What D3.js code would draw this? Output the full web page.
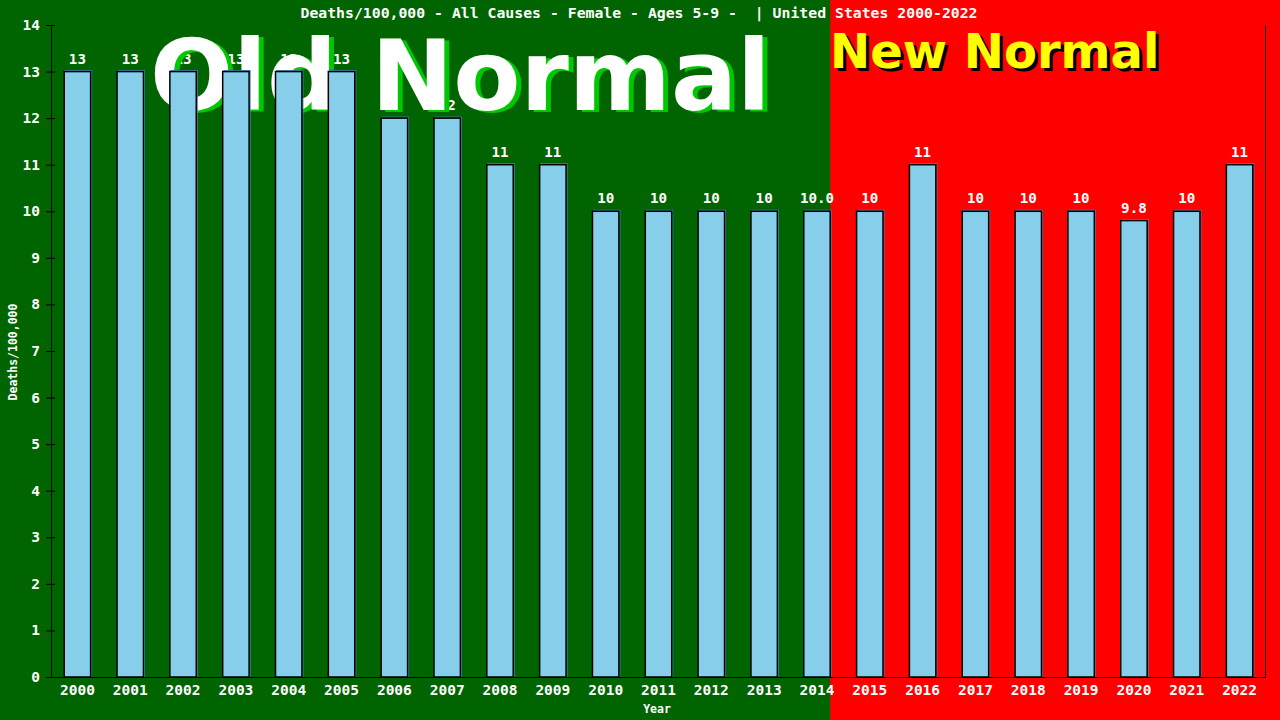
<!DOCTYPE html>
<html>
<head>
<meta charset="utf-8">
<script src="https://d3js.org/d3.v7.min.js"></script>
<style>
	body {margin: 0; background: #006400;}
	svg {display: block;}
	text {font-family: "DejaVu Sans Mono", monospace; font-weight: bold;}
</style>
</head>
<body>
<div id="chart"></div>
<script>
// chart data
var years = ["2000", "2001", "2002", "2003", "2004", "2005", "2006", "2007", "2008", "2009", "2010", "2011",
	"2012", "2013", "2014", "2015", "2016", "2017", "2018", "2019", "2020", "2021", "2022"];
var rates = [13, 13, 13, 13, 13, 13, 12, 12, 11, 11, 10, 10, 10, 10, 10, 10, 11, 10, 10, 10, 9.8, 10, 11];
var rateLabels = ["13", "13", "13", "13", "13", "13", "12", "12", "11", "11", "10", "10",
	"10", "10", "10.0", "10", "11", "10", "10", "10", "9.8", "10", "11"];
var yTicks = [0, 1, 2, 3, 4, 5, 6, 7, 8, 9, 10, 11, 12, 13, 14];
var splitYear = "2015";

var width = 1280, height = 720;
var svg = d3.select("#chart").append("svg")
	.attr("width", width)
	.attr("height", height);

// scales
var xScale = d3.scaleBand().domain(years).range([51, 1266]).paddingInner(0.5).paddingOuter(0.25);
var yScale = d3.scaleLinear().domain([0, 14]).range([677, 25]);

// background: green before the split, red after
var splitX = xScale(years[years.indexOf(splitYear) - 1]) + xScale.bandwidth();
svg.append("rect").attr("x", 0).attr("y", 0).attr("width", splitX).attr("height", height).style("fill", "#006400");
svg.append("rect").attr("x", splitX).attr("y", 0).attr("width", width - splitX).attr("height", height).style("fill", "#ff0000");

// value labels (sit underneath the big text)
years.forEach(function(y, i) {
	svg.append("text")
		.attr("x", xScale(y) + xScale.bandwidth() / 2)
		.attr("y", yScale(rates[i]) - 8)
		.attr("text-anchor", "middle")
		.style("font-size", "14.2px")
		.style("fill", "white")
		.text(rateLabels[i]);
});

// big headings
var bigFont = "'DejaVu Sans', Verdana, sans-serif";
svg.append("text").attr("x", 155).attr("y", 112)
	.style("font-family", bigFont).style("font-size", "98px").style("fill", "#00c800")
	.text("Old Normal");
svg.append("text").attr("x", 150).attr("y", 110)
	.style("font-family", bigFont).style("font-size", "98px").style("fill", "white")
	.text("Old Normal");
svg.append("text").attr("x", 833).attr("y", 71)
	.style("font-family", bigFont).style("font-size", "48px").style("fill", "black")
	.text("New Normal");
svg.append("text").attr("x", 830).attr("y", 68)
	.style("font-family", bigFont).style("font-size", "48px").style("fill", "#ffff00")
	.text("New Normal");

// bars with a thin blue shadow
years.forEach(function(y, i) {
	var bx = xScale(y), by = yScale(rates[i]);
	var bw = xScale.bandwidth(), bh = yScale(0) - yScale(rates[i]);
	svg.append("rect")
		.attr("x", bx + 1).attr("y", by - 1)
		.attr("width", bw).attr("height", bh + 1)
		.style("fill", "none").style("stroke", "#4682b4").style("stroke-width", 1);
	svg.append("rect")
		.attr("x", bx).attr("y", by)
		.attr("width", bw).attr("height", bh)
		.style("fill", "#87ceeb").style("stroke", "black").style("stroke-width", 1.5);
});

// axes
var yAxis = svg.append("g");
yAxis.append("line").attr("x1", 51.5).attr("x2", 51.5).attr("y1", 25).attr("y2", 677).style("stroke", "black");
yTicks.forEach(function(t) {
	yAxis.append("line")
		.attr("x1", 46).attr("x2", 55)
		.attr("y1", yScale(t) + 0.5).attr("y2", yScale(t) + 0.5)
		.style("stroke", "black");
	yAxis.append("text")
		.attr("x", 40).attr("y", yScale(t) + 5)
		.attr("text-anchor", "end")
		.style("font-size", "14.5px").style("fill", "white")
		.text(t);
});

svg.append("line").attr("x1", 46).attr("x2", 1266).attr("y1", 677.5).attr("y2", 677.5).style("stroke", "black");
svg.append("line").attr("x1", 1265.5).attr("x2", 1265.5).attr("y1", 25).attr("y2", 677).style("stroke", "black");

years.forEach(function(y) {
	svg.append("text")
		.attr("x", xScale(y) + xScale.bandwidth() / 2)
		.attr("y", 695)
		.attr("text-anchor", "middle")
		.style("font-size", "14.5px").style("fill", "white")
		.text(y);
});

// titles
svg.append("text").attr("x", 639).attr("y", 18)
	.attr("text-anchor", "middle")
	.style("font-size", "14.8px").style("fill", "white")
	.style("white-space", "pre")
	.text("Deaths/100,000 - All Causes - Female - Ages 5-9 -  | United States 2000-2022");
svg.append("text").attr("x", 657).attr("y", 713)
	.attr("text-anchor", "middle")
	.style("font-size", "11.5px").style("fill", "white")
	.text("Year");
svg.append("text")
	.attr("transform", "translate(17, 352) rotate(-90)")
	.attr("text-anchor", "middle")
	.style("font-size", "11.5px").style("fill", "white")
	.text("Deaths/100,000");
</script>
</body>
</html>
